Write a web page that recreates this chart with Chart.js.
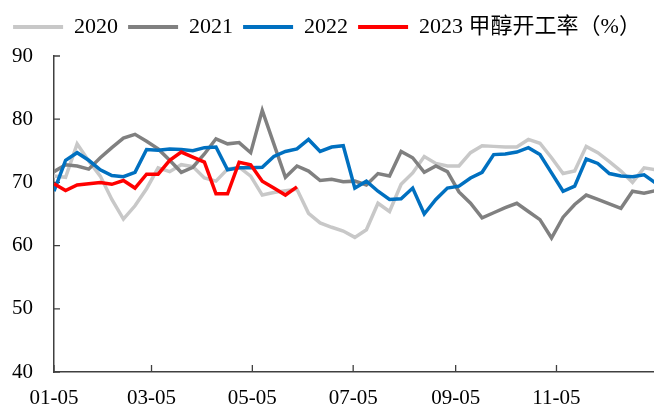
<!DOCTYPE html>
<html><head><meta charset="utf-8">
<script src="https://cdn.jsdelivr.net/npm/chart.js@4/dist/chart.umd.min.js"></script>
<style>html,body{margin:0;padding:0;background:#fff;overflow:hidden}</style>
</head><body>
<canvas id="c" width="654" height="408"></canvas>
<script>
const dates = ["01-05","01-12","01-19","01-26","02-02","02-09","02-16","02-23","03-02","03-09",
"03-16","03-23","03-30","04-06","04-13","04-20","04-27","05-04","05-11","05-18",
"05-25","06-01","06-08","06-15","06-22","06-29","07-06","07-13","07-20","07-27",
"08-03","08-10","08-17","08-24","08-31","09-07","09-14","09-21","09-28","10-05",
"10-12","10-19","10-26","11-02","11-09","11-16","11-23","11-30","12-07","12-14",
"12-21","12-28","01-04"];
const tickLabels = ["01-05","03-05","05-05","07-05","09-05","11-05"];
const v2020 = [71.0,70.8,76.1,73.4,71.0,67.3,64.2,66.3,69.0,72.3,
71.7,72.8,72.5,70.7,70.2,72.1,72.4,71.0,68.0,68.4,
68.7,68.9,65.1,63.6,62.9,62.3,61.3,62.5,66.7,65.4,
69.7,71.5,74.1,73.0,72.6,72.6,74.7,75.8,75.7,75.6,
75.6,76.8,76.2,73.9,71.4,71.8,75.7,74.7,73.3,71.8,
70.0,72.3,72.0];
const v2021 = [71.7,72.8,72.6,72.1,73.9,75.5,77.0,77.6,76.5,75.3,
73.5,71.6,72.4,74.5,76.9,76.1,76.3,74.7,81.4,76.1,
70.8,72.6,71.8,70.3,70.5,70.1,70.2,69.6,71.4,71.0,
74.9,73.9,71.6,72.6,71.7,68.5,66.7,64.4,65.2,66.0,
66.7,65.4,64.1,61.2,64.5,66.5,68.0,67.3,66.6,65.9,
68.6,68.3,68.7];
const v2022 = [68.6,73.5,74.7,73.5,72.0,71.1,70.9,71.6,75.2,75.1,
75.3,75.2,75.0,75.5,75.6,72.0,72.3,72.3,72.4,74.1,
74.9,75.3,76.8,74.9,75.6,75.8,69.1,70.2,68.6,67.3,
67.4,69.1,65.0,67.3,69.1,69.4,70.7,71.6,74.4,74.5,
74.8,75.5,74.4,71.5,68.6,69.4,73.7,73.0,71.4,71.0,
70.9,71.2,69.9];
const v2023 = [69.8,68.7,69.6,69.8,70.0,69.7,70.3,69.1,71.3,71.3,
73.5,74.8,74.0,73.2,68.2,68.2,73.2,72.8,70.2,69.1,
68.0,69.3];
const seriesNames = ["2020","2021","2022","2023 甲醇开工率（%）"];
const seriesColors = ["#c8c8c8","#808080","#0070c0","#ff0000"];

function dayOffset(md){
  const [m,d] = md.split('-').map(Number);
  const base = Date.UTC(2021,0,5);
  let t = Date.UTC(2021,m-1,d);
  if (t < base) t = Date.UTC(2022,m-1,d);
  return Math.round((t-base)/86400000);
}
const xDays = dates.map(dayOffset);
const tickDays = tickLabels.map(dayOffset);
const toPts = vals => vals.map((v,i)=>({x:xDays[i], y:v}));

const FONT = "'Liberation Serif','Times New Roman','Noto Sans CJK SC',serif";
const AX = '#404040';

const innerTicks = {
  id:'innerTicks',
  beforeDatasetsDraw(chart){
    const {ctx, chartArea:a, scales:{x,y}} = chart;
    ctx.save();
    ctx.strokeStyle = AX; ctx.lineWidth = 1.3;
    ctx.beginPath();
    y.ticks.forEach(t=>{ const py = y.getPixelForValue(t.value); ctx.moveTo(a.left, py); ctx.lineTo(a.left+6, py); });
    x.ticks.forEach(t=>{ const px = x.getPixelForValue(t.value); ctx.moveTo(px, a.bottom); ctx.lineTo(px, a.bottom-7); });
    ctx.stroke();
    ctx.restore();
  }
};
const legendHeight = {
  id:'legendHeight',
  beforeUpdate(chart){
    const lg = chart.legend;
    if (lg && !lg._patched){
      const orig = lg.fit.bind(lg);
      lg.fit = function(){ orig(); this.height = 50; };
      lg._patched = true;
    }
  }
};

const datasets = [v2020,v2021,v2022,v2023].map((vals,i)=>({
  label: seriesNames[i],
  data: toPts(vals),
  borderColor: seriesColors[i],
  backgroundColor: seriesColors[i],
  borderWidth: 3.5,
  pointRadius: 0,
  tension: 0,
  order: 4-i
}));

new Chart(document.getElementById('c'), {
  type:'line',
  data:{datasets},
  plugins:[innerTicks, legendHeight],
  options:{
    responsive:false,
    devicePixelRatio:1,
    animation:false,
    layout:{padding:{top:6,right:0,left:0,bottom:0}},
    plugins:{
      tooltip:{enabled:false},
      legend:{
        display:true,
        position:'top',
        labels:{
          font:{family:FONT,size:22},
          color:'#000',
          boxWidth:50,
          boxHeight:4,
          padding:10,
          generateLabels(chart){
            const items = Chart.defaults.plugins.legend.labels.generateLabels(chart);
            items.forEach(it=>{ it.lineWidth = 0; it.fillStyle = it.strokeStyle; });
            return items.sort((a,b)=>a.datasetIndex-b.datasetIndex);
          }
        }
      }
    },
    scales:{
      x:{
        type:'linear',
        min:0, max:363,
        afterBuildTicks(s){ s.ticks = tickDays.map(v=>({value:v})); },
        afterFit(s){ s.height = 36; },
        ticks:{
          autoSkip:false, maxRotation:0,
          padding:14,
          font:{family:FONT,size:21},
          color:'#000',
          callback:(v,i)=>tickLabels[i]
        },
        grid:{display:true, drawOnChartArea:false, drawTicks:false},
        border:{display:true, color:AX, width:1.5}
      },
      y:{
        min:40, max:90,
        afterFit(s){ s.width = 54; },
        ticks:{stepSize:10, padding:21, font:{family:FONT,size:21}, color:'#000'},
        grid:{display:true, drawOnChartArea:false, drawTicks:false},
        border:{display:true, color:AX, width:1.5}
      }
    }
  }
});
</script>
</body></html>
